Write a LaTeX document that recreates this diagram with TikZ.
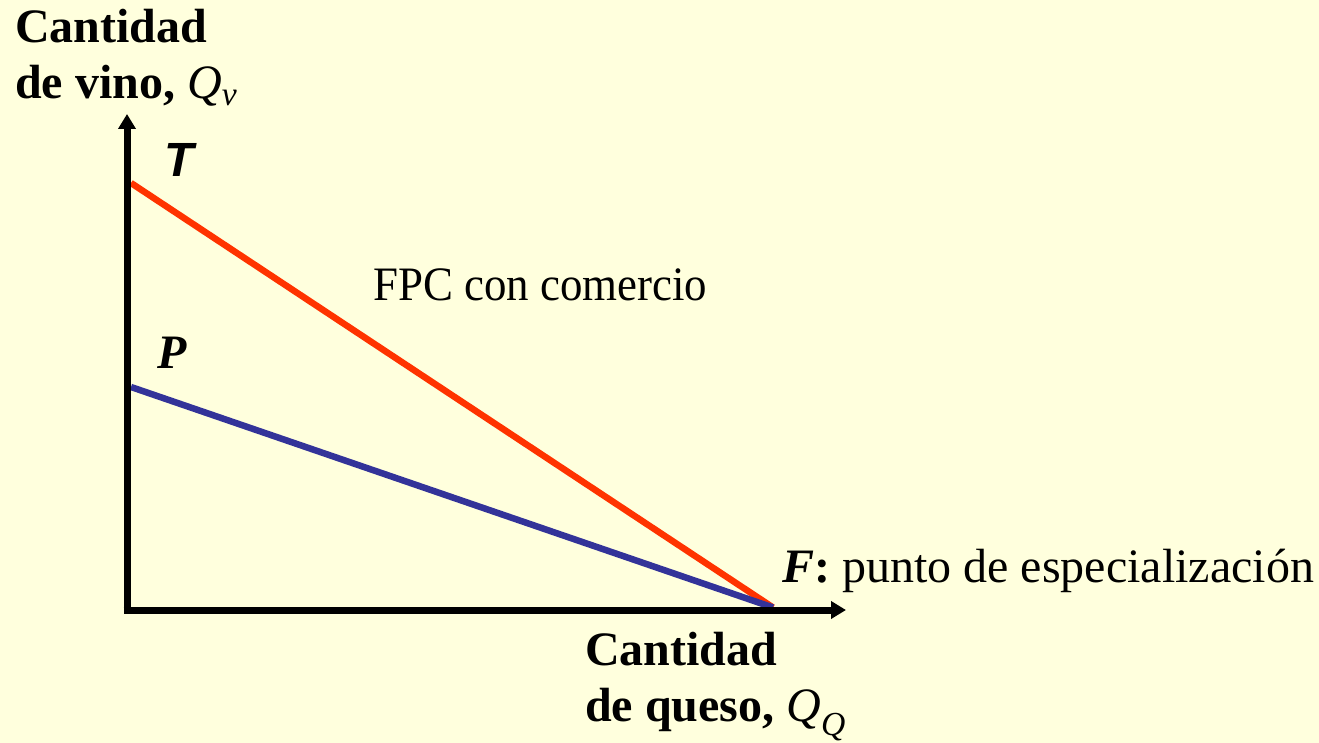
\documentclass[tikz,border=0pt]{standalone}
\usepackage{fontspec}
\setmainfont{Liberation Serif}
\newfontfamily\arialfont{Liberation Sans}
\usetikzlibrary{arrows.meta}
\definecolor{fondo}{RGB}{255,255,221}
\definecolor{rojo}{RGB}{255,51,0}
\definecolor{azul}{RGB}{51,51,153}

\begin{document}
\begin{tikzpicture}[x=1pt, y=-1pt,
eje/.style = {line width=7pt, -{Triangle[length=15pt, width=17pt]}},
fpc/.style = {line width=6.5pt},
etiq/.style = {inner sep=0pt, font=\fontsize{48}{56}\selectfont}]

\useasboundingbox (0,0) rectangle (1319,743);
\fill [fondo] (0,0) rectangle (1319,743);

% puntos: T (vino), P (vino), F (queso)
\coordinate (tv) at (131,183);
\coordinate (pv) at (131,387);
\coordinate (fq) at (773,607.5);

\draw [rojo, fpc] (tv) -- (fq);
\draw [azul, fpc] (pv) -- (fq);

% ejes
\coordinate (orig) at (127,613.5);
\coordinate (ytop) at (127,114);
\coordinate (xorig) at (123.5,610);
\coordinate (xend) at (846,610);
\draw [eje] (orig) -- (ytop);
\draw [eje] (xorig) -- (xend);

\node [etiq, align=left, anchor=north west] (qv) at (15,9)
{\textbf{Cantidad}\\\textbf{de vino,} \textit{Q}\textsubscript{\textit{v}}};
\node [etiq, align=left, anchor=north west] (qq) at (585,632)
{\textbf{Cantidad}\\\textbf{de queso,} \textit{Q}\textsubscript{\textit{Q}}};

\node [etiq] (t) at (179,160) {\arialfont\bfseries\itshape T};
\node [etiq] (p) at (172,353) {\bfseries\itshape P};
\node [etiq, anchor=base west, xscale=0.935, transform shape] (fpclab) at (373,300)
{FPC con comercio};
\node [etiq, anchor=base west] (f) at (782,582)
{\textbf{\textit{F}:} punto de especialización};

\end{tikzpicture}
\end{document}
